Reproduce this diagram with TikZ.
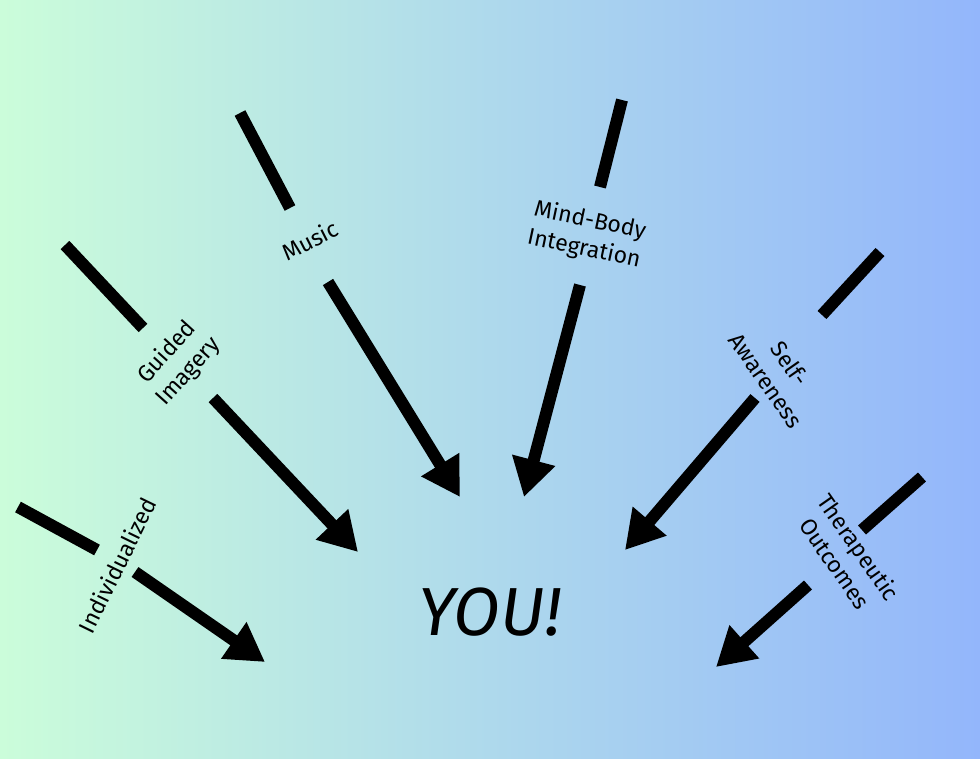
\documentclass[tikz,border=0pt]{standalone}
\usepackage{fontspec}
\setmainfont{Fira Sans}
\usetikzlibrary{arrows.meta}
\definecolor{lg}{HTML}{CBFDDA}
\definecolor{lb}{HTML}{93B6FB}
\definecolor{mid}{HTML}{AED9EC}
\begin{document}
\begin{tikzpicture}[x=1pt,y=-1pt,
  seg/.style={line width=12pt},
  arr/.style={line width=12pt,-{Triangle[length=38pt,width=42pt]}},
  lbl/.style={font=\fontsize{23}{29}\selectfont,align=center,inner sep=0pt}]
\useasboundingbox (0,0) rectangle (980,758);
\shade[left color=lg,right color=lb,middle color=mid] (0,0) rectangle (980,758);
% Individualized
\coordinate (a1) at (18,507); \coordinate (a2) at (97,550);
\coordinate (a3) at (135,572); \coordinate (a4) at (265,662);
\draw[seg] (a1)--(a2); \draw[arr] (a3)--(a4);
\node[lbl,rotate=64] (t1) at (117,565) {Individualized};
% Guided Imagery
\coordinate (b1) at (65,245); \coordinate (b2) at (143,328);
\coordinate (b3) at (213,398); \coordinate (b4) at (358,552);
\draw[seg] (b1)--(b2); \draw[arr] (b3)--(b4);
\node[lbl,rotate=48] (t2) at (178,362) {Guided\\Imagery};
% Music
\coordinate (c1) at (240,113); \coordinate (c2) at (290,208);
\coordinate (c3) at (328,282); \coordinate (c4) at (460,497);
\draw[seg] (c1)--(c2); \draw[arr] (c3)--(c4);
\node[lbl,rotate=27] (t3) at (310,240) {Music};
% Mind-Body
\coordinate (d1) at (622,100); \coordinate (d2) at (600,187);
\coordinate (d3) at (580,285); \coordinate (d4) at (524,497);
\draw[seg] (d1)--(d2); \draw[arr] (d3)--(d4);
\node[lbl,rotate=-12] (t4) at (587,235) {Mind-Body\\Integration};
% Self-Awareness
\coordinate (e1) at (880,252); \coordinate (e2) at (822,315);
\coordinate (e3) at (755,398); \coordinate (e4) at (625,550);
\draw[seg] (e1)--(e2); \draw[arr] (e3)--(e4);
\node[lbl,rotate=-55] (t5) at (778,372) {Self-\\Awareness};
% Therapeutic Outcomes
\coordinate (f1) at (922,477); \coordinate (f2) at (862,530);
\coordinate (f3) at (808,585); \coordinate (f4) at (716,667);
\draw[seg] (f1)--(f2); \draw[arr] (f3)--(f4);
\node[lbl,rotate=-55] (t6) at (847,555) {Therapeutic\\Outcomes};
\node[font=\fontsize{68}{76}\selectfont\itshape,inner sep=0pt] (you) at (490,612) {YOU!};
\end{tikzpicture}
\end{document}
